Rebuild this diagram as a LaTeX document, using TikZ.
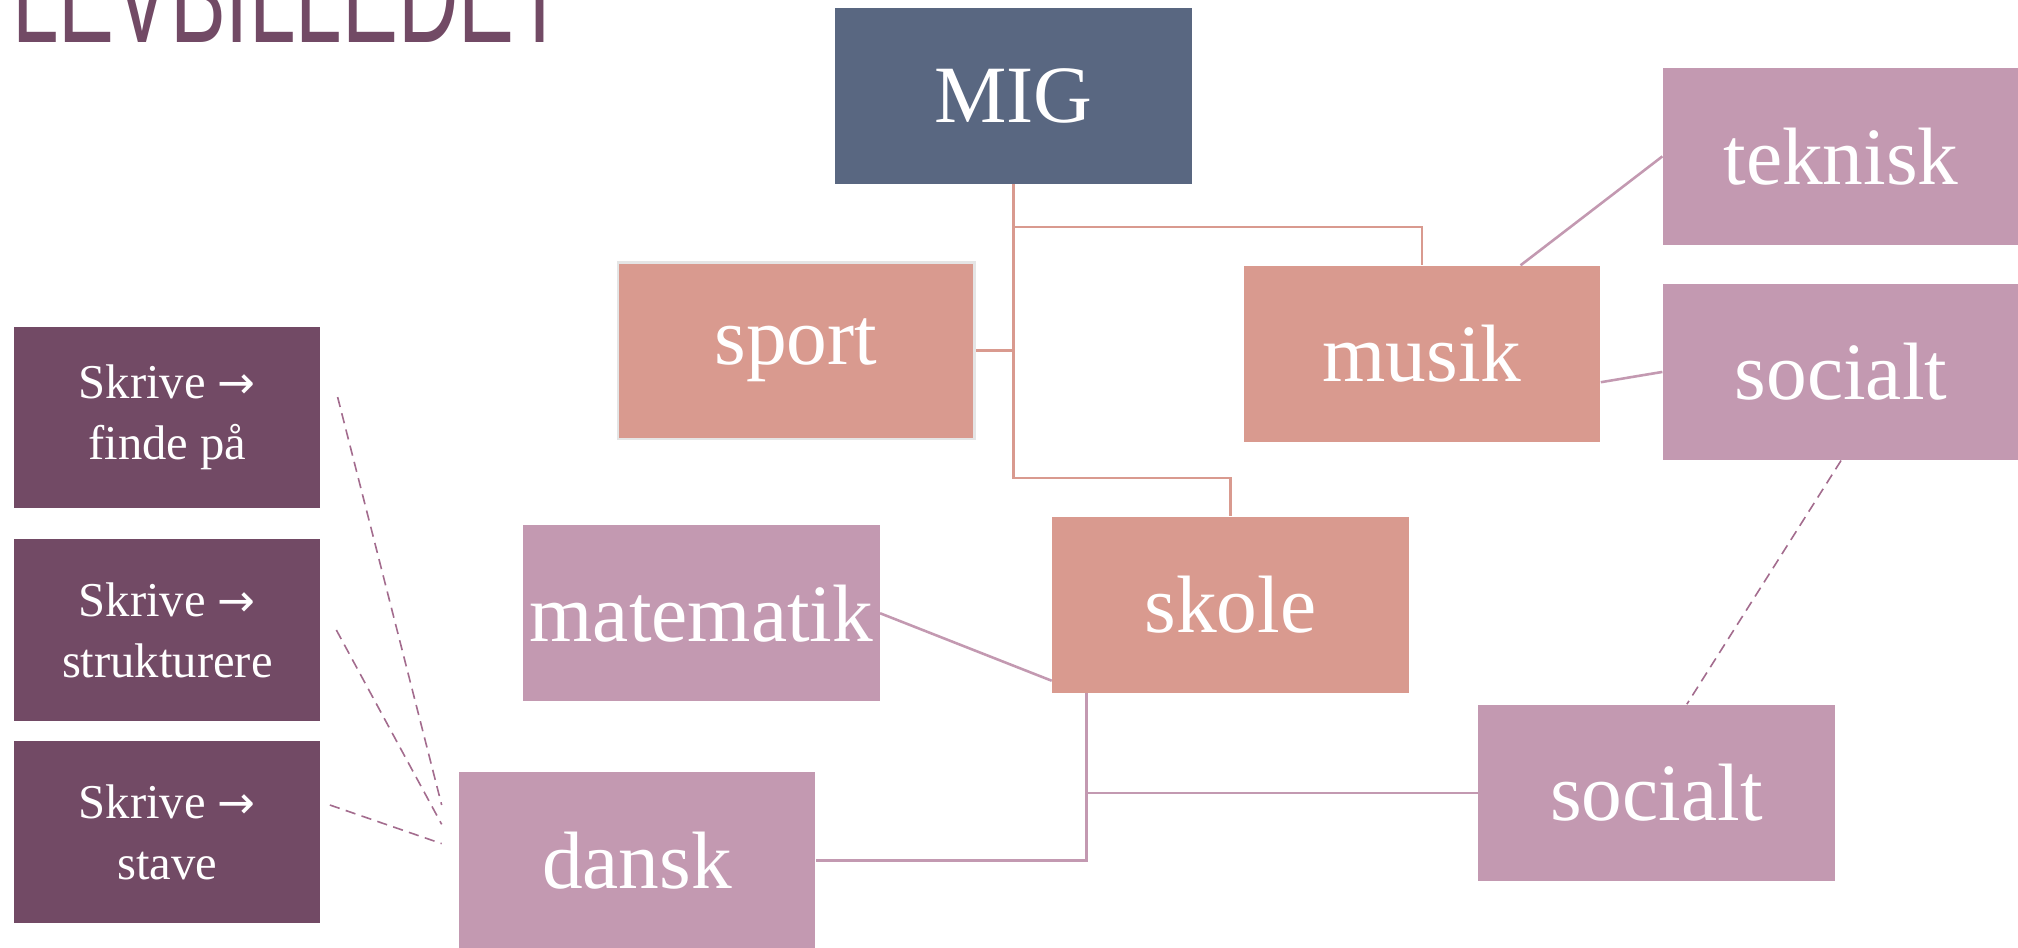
\documentclass[tikz,border=0pt]{standalone}
\usepackage{fontspec}
\setmainfont{Liberation Serif}
\newfontfamily\titelfont{Liberation Sans}
\newfontfamily\pilfont{DejaVu Sans}
\usetikzlibrary{calc}
\definecolor{migblaa}{RGB}{89,103,129}
\definecolor{laks}{RGB}{217,154,143}
\definecolor{lyslilla}{RGB}{195,153,177}
\definecolor{morklilla}{RGB}{114,74,101}
\definecolor{stipfarve}{RGB}{163,108,142}
\newcommand{\pil}{{\pilfont\fontsize{20}{27}\selectfont →}}
\begin{document}
\begin{tikzpicture}[x=0.02cm,y=-0.02cm,
        boks/.style = {minimum width=5.54cm, minimum height=2.74cm, inner sep=0pt, text=white, font=\fontsize{36}{40}\selectfont},
        migboks/.style = {boks, fill=migblaa},
        laksboks/.style = {boks, fill=laks},
        lillaboks/.style = {boks, fill=lyslilla},
        skriv/.style = {minimum width=4.76cm, minimum height=2.82cm, inner sep=0pt, align=center, text=white, fill=morklilla, font=\fontsize{21.5}{27}\selectfont},
        laksstreg/.style = {draw=laks, line width=0.04cm},
        lillastreg/.style = {draw=lyslilla, line width=0.04cm},
        stiplet/.style = {draw=stipfarve, line width=0.025cm, dash pattern=on 0.16cm off 0.1cm}]
        \useasboundingbox (0,0) rectangle (1568,736);
        \clip (0,0) rectangle (1568,736);
        \node[anchor=base west, inner sep=0pt, text=morklilla, font=\titelfont\fontsize{37}{40}\selectfont] (titel) at (9,33) {\scalebox{1}[1.6]{LEVBILLEDET}};
        \node[migboks] (mig) at (787.5,74.5) {MIG};
        \node[laksboks, draw=black!10, line width=0.04cm] (sport) at (618.5,272.5) {sport};
        \node[laksboks] (musik) at (1105,275) {musik};
        \node[laksboks] (skole) at (956,470) {skole};
        \node[lillaboks] (teknisk) at (1430.5,121.5) {teknisk};
        \node[lillaboks] (socialt1) at (1430.5,289) {socialt};
        \node[lillaboks] (matematik) at (545,476.5) {matematik};
        \node[lillaboks] (socialt2) at (1287,616) {socialt};
        \node[lillaboks] (dansk) at (495,668.5) {dansk};
        \node[skriv] (skriv1) at (130,324.5) {Skrive \pil\\finde på};
        \node[skriv] (skriv2) at (130,489.5) {Skrive \pil\\strukturere};
        \node[skriv] (skriv3) at (130,646.5) {Skrive \pil\\stave};
        \draw[laksstreg] (mig.south) -- ++(0,228) -| (skole.north);
        \draw[laksstreg] (mig.south) ++(0,33) -| (musik.north);
        \draw[laksstreg] (mig.south |- sport.east) -- (sport.east);
        \draw[lillastreg] (skole.south west) ++(27,0) |- (dansk.east);
        \draw[lillastreg] (skole.south west) ++(27,0) |- (socialt2.west);
        \draw[lillastreg] (musik.42) -- (teknisk.west);
        \draw[lillastreg] (musik.-9) -- (socialt1.west);
        \draw[lillastreg] (matematik.east) -- (skole.203);
        \draw[stiplet] (socialt1.south) -- (socialt2.71);
        \coordinate (d1) at ($(dansk.west)+(-13,-43)$);
        \coordinate (d2) at ($(dansk.west)+(-13,-28)$);
        \coordinate (d3) at ($(dansk.west)+(-13,-13)$);
        \draw[stiplet] ($(skriv1.east)+(13,-16)$) -- (d1);
        \draw[stiplet] ($(skriv2.east)+(12,0)$) -- (d2);
        \draw[stiplet] ($(skriv3.east)+(7,-21)$) -- (d3);
\end{tikzpicture}
\end{document}
